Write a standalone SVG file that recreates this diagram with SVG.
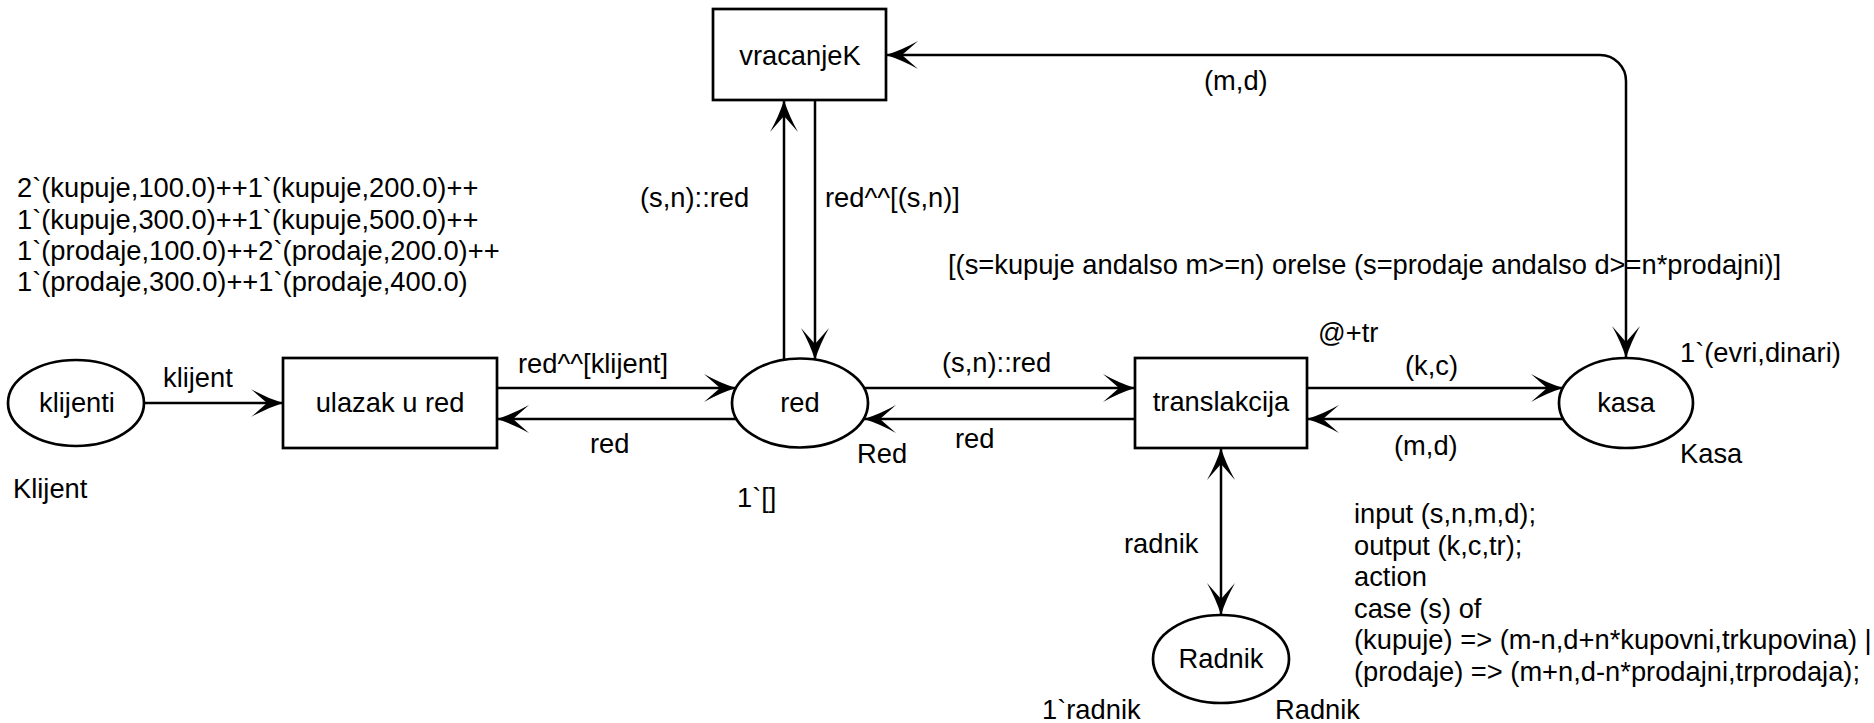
<svg xmlns="http://www.w3.org/2000/svg" width="1874" height="723" viewBox="0 0 1874 723">
<style>
text{font-family:"Liberation Sans",Arial,sans-serif;font-size:27.3px;fill:#000}
.c{text-anchor:middle}
.n{fill:#fff;stroke:#000;stroke-width:2.7}
.e{fill:none;stroke:#000;stroke-width:2.5;marker-end:url(#ah)}
.b{marker-start:url(#ah)}
</style>
<defs>
<marker id="ah" viewBox="0 0 32 28" refX="32" refY="14" markerWidth="32" markerHeight="28" markerUnits="userSpaceOnUse" orient="auto-start-reverse">
<path d="M32,14 Q16,9 0,0 L16,14 L0,28 Q16,19 32,14 Z" fill="#000"/>
</marker>
</defs>
<rect width="1874" height="723" fill="#fff"/>
<g id="connectors">
<path class="e" d="M144,403 L283,403"/>
<path class="e" d="M497,388 L736,388"/>
<path class="e" d="M736,419 L497,419"/>
<path class="e" d="M784,360 L784,100"/>
<path class="e" d="M815,100 L815,360"/>
<path class="e" d="M864,388 L1135,388"/>
<path class="e" d="M1135,419 L864,419"/>
<path class="e" d="M1307,388 L1563,388"/>
<path class="e" d="M1563,419 L1307,419"/>
<path class="e b" d="M1221,448 L1221,615"/>
<path class="e b" d="M886,55 L1600,55 A26,26 0 0 1 1626,81 L1626,358"/>
</g>
<g id="klienti"><ellipse class="n" cx="76" cy="403" rx="68" ry="43"/><text class="c" x="77" y="412">klijenti</text></g>
<g id="ulazak"><rect class="n" x="283" y="358" width="214" height="90"/><text class="c" x="390" y="412">ulazak u red</text></g>
<g id="red"><ellipse class="n" cx="800" cy="403" rx="68" ry="44.5"/><text class="c" x="800" y="412">red</text></g>
<g id="vracanjeK"><rect class="n" x="713" y="9" width="173" height="91"/><text class="c" x="800" y="65">vracanjeK</text></g>
<g id="translakcija"><rect class="n" x="1135" y="358" width="172" height="90"/><text class="c" x="1221" y="411">translakcija</text></g>
<g id="kasa"><ellipse class="n" cx="1626" cy="403" rx="67" ry="45"/><text class="c" x="1626" y="412">kasa</text></g>
<g id="Radnik"><ellipse class="n" cx="1221" cy="659" rx="68" ry="44"/><text class="c" x="1221" y="668">Radnik</text></g>
<g id="labels">
<text x="17" y="197">2`(kupuje,100.0)++1`(kupuje,200.0)++</text>
<text x="17" y="228.5">1`(kupuje,300.0)++1`(kupuje,500.0)++</text>
<text x="17" y="260">1`(prodaje,100.0)++2`(prodaje,200.0)++</text>
<text x="17" y="291">1`(prodaje,300.0)++1`(prodaje,400.0)</text>
<text x="163" y="387">klijent</text>
<text x="13" y="498">Klijent</text>
<text x="518" y="373">red^^[klijent]</text>
<text x="590" y="453">red</text>
<text x="737" y="507">1`[]</text>
<text x="857" y="463">Red</text>
<text x="942" y="372">(s,n)::red</text>
<text x="955" y="448">red</text>
<text x="640" y="207">(s,n)::red</text>
<text x="825" y="207">red^^[(s,n)]</text>
<text x="1204" y="90">(m,d)</text>
<text x="948" y="274">[(s=kupuje andalso m&gt;=n) orelse (s=prodaje andalso d&gt;=n*prodajni)]</text>
<text x="1318" y="342">@+tr</text>
<text x="1405" y="375">(k,c)</text>
<text x="1680" y="362">1`(evri,dinari)</text>
<text x="1394" y="455">(m,d)</text>
<text x="1680" y="463">Kasa</text>
<text x="1124" y="553">radnik</text>
<text x="1354" y="523">input (s,n,m,d);</text>
<text x="1354" y="555">output (k,c,tr);</text>
<text x="1354" y="586">action</text>
<text x="1354" y="618">case (s) of</text>
<text x="1354" y="649">(kupuje) =&gt; (m-n,d+n*kupovni,trkupovina) |</text>
<text x="1354" y="681">(prodaje) =&gt; (m+n,d-n*prodajni,trprodaja);</text>
<text x="1042" y="719">1`radnik</text>
<text x="1275" y="719">Radnik</text>
</g>
</svg>
